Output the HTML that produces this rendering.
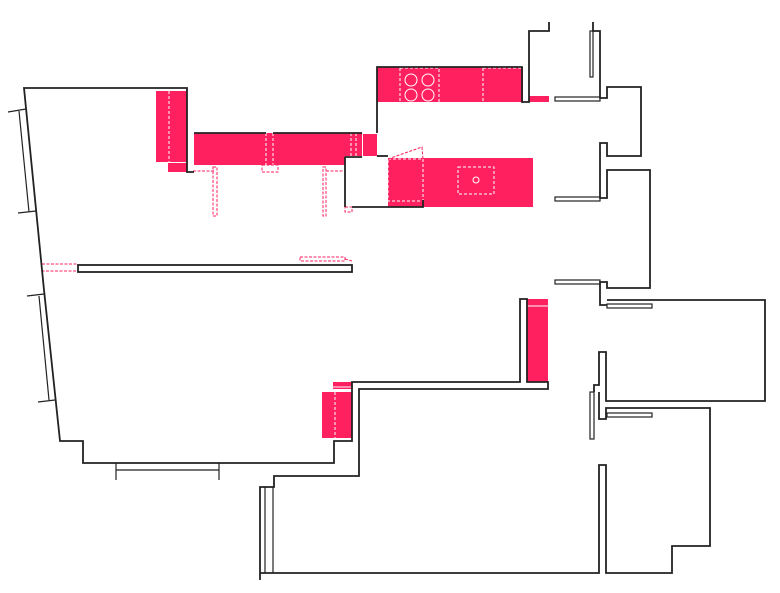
<!DOCTYPE html>
<html><head><style>html,body{margin:0;padding:0;background:#fff}svg{display:block}</style></head>
<body>
<svg width="780" height="593" viewBox="0 0 780 593" xmlns="http://www.w3.org/2000/svg">
<g fill="#ff2060" stroke="none">
<rect x="156" y="91" width="31" height="71"/>
<rect x="168" y="163" width="19" height="9"/>
<rect x="194" y="133" width="151" height="32"/>
<rect x="345" y="133" width="17" height="23"/>
<rect x="363" y="134" width="14" height="22"/>
<rect x="377" y="67" width="146" height="35"/>
<rect x="529" y="96" width="20" height="6"/>
<rect x="388" y="158" width="145" height="49"/>
<rect x="527" y="299" width="21" height="83"/>
<rect x="333" y="382" width="19" height="7"/>
<rect x="322" y="392" width="30" height="46"/>
</g>
<g fill="none" stroke="#fff" stroke-width="1" stroke-dasharray="3,2">
<line x1="169" y1="91" x2="169" y2="162"/>
<line x1="266" y1="133" x2="266" y2="165"/><line x1="273" y1="133" x2="273" y2="165"/>
<line x1="351" y1="133" x2="351" y2="156"/><line x1="356" y1="133" x2="356" y2="156"/>
<rect x="400" y="68" width="39" height="35"/>
<rect x="483" y="68" width="39" height="35"/>
<rect x="388" y="159" width="35" height="42"/>
<rect x="458" y="167" width="36" height="27"/>
<line x1="335" y1="392" x2="335" y2="438"/>
</g>
<g fill="none" stroke="#fff" stroke-width="1">
<circle cx="411" cy="80" r="6"/><circle cx="428" cy="80" r="6"/>
<circle cx="411" cy="95" r="6"/><circle cx="428" cy="95" r="6"/>
<circle cx="476" cy="180" r="3"/>
<line x1="527" y1="306" x2="548" y2="306"/>
<line x1="333" y1="387" x2="352" y2="387"/>
</g>
<g fill="none" stroke="#ff2060" stroke-width="1" stroke-dasharray="3,1.5">
<rect x="213" y="167" width="4" height="49"/>
<rect x="323" y="167" width="3" height="49"/>
<rect x="262" y="165" width="16" height="7"/>
<line x1="193" y1="171" x2="215" y2="171"/>
<line x1="326" y1="171" x2="345" y2="171"/>
<rect x="345" y="207" width="7" height="5"/>
<rect x="42" y="264" width="36" height="7"/>
<rect x="300" y="257" width="45" height="4"/>
<line x1="345" y1="259" x2="352" y2="261"/>
<polyline points="388,159 422,147 423,159"/>
</g>
<g fill="none" stroke="#222" stroke-width="1.8">
<polyline points="44,290 24,88 187,88 187,172 194,172"/>
<polyline points="194,133 266,133"/><polyline points="273,133 362,133"/>
<polyline points="345,157 362,157"/>
<polyline points="377,156 388,156"/>
<polyline points="345,157 345,207"/>
<polyline points="352,207 423,207 423,200"/>
<polyline points="377,133 377,67 522,67 522,102 529,102 529,31 549,31 549,22"/>
<polyline points="593,22 593,31 600,31 600,98 607,98 607,87 641,87 641,156 607,156 607,143 600,143 600,198 607,198 607,170 650,170 650,288 607,288 607,282 600,282 600,305 607,305"/>
<polyline points="607,300 765,300 765,401 606,401 606,352 599,352 599,385 594,385 594,392"/>
<polyline points="599,392 599,419 606,419 606,408 710,408 710,546 672,546 672,573 606,573 606,465 599,465 599,573 260,573"/>
<polyline points="44,290 60,441 83,441 83,463 334,463 334,441 352,441 352,382 520,382 520,299 527,299 527,382 548,382 548,389 359,389 359,476 274,476 274,487 260,487 260,580"/>
<rect x="78" y="265" width="274" height="7"/>
</g>
<g fill="none" stroke="#222" stroke-width="1.2">
<line x1="8" y1="112" x2="26" y2="109"/><line x1="18" y1="213" x2="36" y2="211"/>
<line x1="19" y1="111" x2="29" y2="212"/>
<line x1="27" y1="296" x2="44" y2="294"/><line x1="38" y1="402" x2="55" y2="400"/>
<line x1="39" y1="296" x2="49" y2="400"/>
<line x1="116" y1="470" x2="219" y2="470"/><line x1="116" y1="463" x2="116" y2="480"/><line x1="219" y1="463" x2="219" y2="480"/>
<line x1="265" y1="487" x2="265" y2="573"/><line x1="273" y1="487" x2="273" y2="573"/>
<rect x="590" y="31" width="3" height="46"/>
<rect x="555" y="97" width="45" height="4"/>
<rect x="555" y="197" width="45" height="4"/>
<rect x="555" y="280" width="45" height="4"/>
<rect x="607" y="304" width="45" height="4"/>
<rect x="607" y="413" width="45" height="4"/>
<rect x="590" y="392" width="4" height="47"/>
</g>
</svg>
</body></html>
